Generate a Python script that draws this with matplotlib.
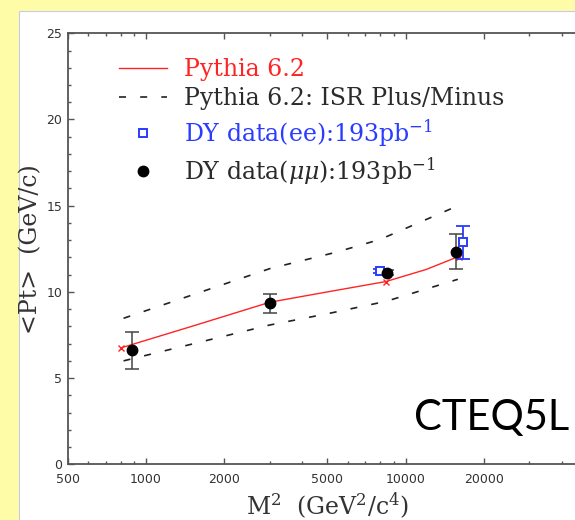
import matplotlib
matplotlib.use("Agg")
import matplotlib.pyplot as plt
from matplotlib.patches import Rectangle
from matplotlib.ticker import LogLocator, FixedLocator, MultipleLocator, FuncFormatter, NullFormatter

# ---------------- data ----------------
pythia_m2 = [800, 1500, 3000, 5000, 8400, 12000, 16000]
pythia_pt = [6.75, 8.0, 9.4, 10.0, 10.6, 11.3, 12.05]
pythia_marker_m2 = [800, 3000, 8400, 16000]
pythia_marker_pt = [6.75, 9.4, 10.6, 12.05]

isr_plus_m2 = [820, 3000, 5400, 8000, 15600]
isr_plus_pt = [8.47, 11.35, 12.3, 13.05, 14.94]
isr_minus_m2 = [820, 3000, 5100, 8400, 15900]
isr_minus_pt = [6.0, 8.08, 8.76, 9.45, 10.73]

ee_m2 = [7940, 16600]
ee_pt = [11.23, 12.88]
ee_err = [0.12, 0.97]

mumu_m2 = [880, 3000, 8470, 15700]
mumu_pt = [6.62, 9.34, 11.11, 12.33]
mumu_err = [1.07, 0.55, 0.15, 1.02]

x_major = [500, 1000, 2000, 5000, 10000, 20000]
y_major = [0, 5, 10, 15, 20, 25]

labels = ["Pythia 6.2", "Pythia 6.2: ISR Plus/Minus",
          r"DY data(ee):193pb$^{-1}$", r"DY data($\mu\mu$):193pb$^{-1}$"]

# ---------------- style ----------------
plt.rcParams["mathtext.fontset"] = "dejavuserif"
W, H = 575, 520
fig = plt.figure(figsize=(W / 100, H / 100), dpi=100, facecolor="#FFFCA8")

# white slide panel
fig.patches.append(Rectangle((19.3 / W, -0.01), 1.05 - 19.3 / W, 1.01 - 11 / H,
                             transform=fig.transFigure, facecolor="white",
                             edgecolor="#C8C8EE", lw=0.8, zorder=-5))

left_px, top_px, bottom_px, right_px = 67.8, 33.3, 464.3, 587
ax = fig.add_axes([left_px / W, 1 - bottom_px / H, (right_px - left_px) / W,
                   (bottom_px - top_px) / H])
ax.set_zorder(2)
ax.set_facecolor("none")
ax.set_xscale("log")
ax.set_xlim(500, 50000)
ax.set_ylim(0, 25)

red = "#FF2424"
blue = "#2A3CFF"

# MC curves
l_pythia, = ax.plot(pythia_m2, pythia_pt, color=red, lw=1.0, zorder=3)
ax.plot(pythia_marker_m2, pythia_marker_pt, ls="none", marker="x", ms=4,
        mew=1.0, color=red, zorder=3)
l_isr, = ax.plot(isr_plus_m2, isr_plus_pt, color="#222222", lw=1.2,
                 ls=(0, (4.2, 8.5)), zorder=2)
ax.plot(isr_minus_m2, isr_minus_pt, color="#222222", lw=1.2,
        ls=(0, (4.2, 8.5)), zorder=2)

# data
ax.errorbar(ee_m2, ee_pt, yerr=ee_err, fmt="none", ecolor=blue, elinewidth=1.3,
            capsize=5, capthick=1.3, zorder=4)
l_ee, = ax.plot(ee_m2, ee_pt, ls="none", marker="s", ms=6, mfc="white",
                mec=blue, mew=1.4, zorder=5)
ax.errorbar(mumu_m2, mumu_pt, yerr=mumu_err, fmt="none", ecolor="#444444",
            elinewidth=1.1, capsize=5, capthick=1.1, zorder=4)
l_mumu, = ax.plot(mumu_m2, mumu_pt, ls="none", marker="o", ms=7.5,
                  color="black", zorder=6)

# axes styling
for s in ax.spines.values():
    s.set_color("#555555")
    s.set_linewidth(1.3)
ax.xaxis.set_major_locator(FixedLocator(x_major))
ax.xaxis.set_major_formatter(FuncFormatter(lambda v, p: f"{int(round(v))}"))
ax.xaxis.set_minor_locator(LogLocator(base=10, subs=(3, 4, 5, 6, 7, 8, 9)))
ax.xaxis.set_minor_formatter(NullFormatter())
ax.yaxis.set_major_locator(FixedLocator(y_major))
ax.yaxis.set_minor_locator(MultipleLocator(1))
ax.tick_params(which="both", direction="in", top=True, right=True,
               color="#555555")
ax.tick_params(which="major", length=4.5, width=1.0, labelsize=9,
               labelcolor="#333333")
ax.tick_params(which="minor", length=2.2, width=1.0)
ax.tick_params(axis="x", which="major", pad=6)
ax.tick_params(axis="y", which="major", pad=4)

ax.set_xlabel(r"M$^2$  (GeV$^2$/c$^4$)", fontsize=17, family="DejaVu Serif",
              color="#333333", labelpad=4)
ax.set_ylabel(r"<Pt>  (GeV/c)", fontsize=17, family="DejaVu Serif",
              color="#333333", labelpad=3)

leg = ax.legend([l_pythia, l_isr, l_ee, l_mumu], labels,
                loc="upper left", bbox_to_anchor=(0.0987, 0.943),
                frameon=False, borderaxespad=0, borderpad=0,
                handlelength=2.03, handletextpad=0.7, labelspacing=0.28,
                prop={"family": "DejaVu Serif", "size": 17},
                labelcolor=[red, "#2b2b2b", blue, "#2b2b2b"])

fig.text(492 / W, 1 - 418 / H, "CTEQ5L", fontsize=30,
         family=["Lato", "DejaVu Sans"],
         ha="center", va="center", color="black")

fig.savefig("out.png", dpi=100, facecolor=fig.get_facecolor())
